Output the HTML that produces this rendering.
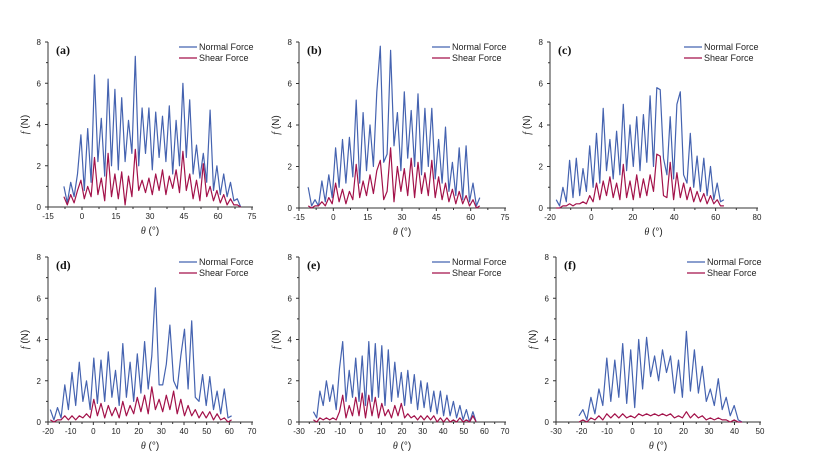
<!DOCTYPE html>
<html><head><meta charset="utf-8"><style>
body{margin:0;background:#fff;}
svg{display:block;font-family:"Liberation Sans",sans-serif;}
</style></head><body>
<svg id="c" width="822" height="471"></svg>
<script>
const aNormal=[1.0,0.2,1.2,0.5,1.6,3.5,0.8,3.8,1.2,6.4,2.2,4.3,1.5,6.2,2.0,5.7,1.8,5.3,2.2,4.2,2.6,7.3,2.0,4.8,2.6,4.8,1.8,4.6,2.4,4.4,2.2,4.9,1.6,4.2,2.0,6.0,2.4,5.2,1.6,3.0,1.4,2.6,1.2,4.7,0.8,2.0,0.6,1.6,0.5,1.2,0.3,0.4,0.0];
const aShear=[0.5,0.1,0.6,0.2,0.8,1.3,0.4,1.0,0.5,2.4,0.6,1.4,0.3,2.6,0.5,1.6,0.4,1.7,0.1,1.5,0.5,2.8,0.8,1.3,0.7,1.4,0.6,1.6,0.8,1.8,0.6,1.5,0.9,1.8,0.7,2.7,0.8,1.6,0.4,1.3,0.3,2.1,0.5,1.0,0.3,0.8,0.2,0.6,0.1,0.4,0.1,0.1,0.0];
const bNormal=[1.0,0.1,0.4,0.1,1.3,0.3,1.6,0.5,2.9,1.0,3.3,1.2,3.4,1.5,5.2,1.2,4.6,1.8,4.0,2.0,5.6,7.8,2.2,2.6,7.6,3.0,4.6,1.8,5.6,2.4,4.7,2.0,5.5,1.6,4.8,2.0,4.8,1.4,3.3,1.2,3.9,0.8,2.2,0.6,2.9,0.4,3.0,0.3,1.2,0.1,0.5];
const bShear=[0.1,0.0,0.1,0.1,0.3,0.1,0.5,0.2,1.2,0.3,0.9,0.2,0.8,0.4,2.1,0.5,1.3,0.6,1.6,0.7,1.8,2.3,0.4,0.8,2.9,0.3,2.0,0.8,1.9,0.6,2.4,0.5,2.2,0.7,1.7,0.6,2.3,0.5,1.5,0.4,1.2,0.3,0.9,0.2,0.8,0.2,0.6,0.1,0.4,0.0,0.1];
const cNormal=[0.4,0.1,1.0,0.3,2.3,0.5,2.4,0.6,1.9,0.8,3.0,1.0,3.6,1.2,4.8,1.8,3.3,1.4,3.7,1.6,5.0,1.8,4.0,2.0,4.4,1.8,4.5,2.2,5.4,2.0,5.8,5.7,2.4,1.6,4.4,1.4,5.0,5.6,1.6,1.2,3.6,1.0,2.5,0.8,2.4,0.6,2.0,0.4,1.2,0.3,0.4];
const cShear=[0.0,0.0,0.1,0.1,0.2,0.1,0.2,0.2,0.3,0.2,0.6,0.3,1.2,0.4,1.3,0.6,1.5,0.5,1.2,0.4,2.1,0.5,1.3,0.4,1.6,0.5,1.4,0.6,1.6,0.8,2.6,2.5,0.6,0.5,2.2,0.4,1.7,0.5,1.2,0.4,1.0,0.3,0.8,0.3,0.7,0.2,0.6,0.2,0.4,0.1,0.1];
const dNormal=[0.6,0.1,0.7,0.2,1.8,0.6,2.4,0.8,2.9,1.0,2.0,0.6,3.1,0.9,3.0,1.0,3.4,1.2,2.5,0.8,3.8,1.2,2.9,1.0,3.3,1.4,3.9,1.6,3.2,6.5,1.8,1.8,2.8,4.7,2.0,1.6,3.2,4.5,1.6,4.9,1.2,1.0,2.3,0.8,2.2,0.6,1.5,0.4,1.6,0.2,0.3];
const dShear=[0.1,0.0,0.1,0.1,0.3,0.1,0.3,0.1,0.3,0.2,0.4,0.2,1.1,0.3,0.9,0.2,0.8,0.3,0.7,0.2,1.0,0.3,0.8,0.4,1.2,0.5,1.3,0.4,1.7,0.6,1.1,0.5,1.3,0.6,1.5,0.4,1.1,0.3,0.8,0.3,0.6,0.2,0.5,0.2,0.5,0.1,0.4,0.1,0.2,0.0,0.1];
const eNormal=[0.5,0.2,1.5,0.8,2.0,1.0,1.8,0.6,2.6,3.9,1.0,2.5,1.2,3.1,1.0,3.2,0.8,3.9,1.0,3.8,1.2,3.7,0.8,3.5,1.0,2.9,1.2,2.4,0.8,2.5,0.9,2.3,0.6,2.0,0.7,1.9,0.5,1.5,0.4,1.5,0.3,1.3,0.3,1.0,0.2,0.8,0.1,0.6,0.0,0.5,0.0];
const eShear=[0.1,0.0,0.2,0.1,0.2,0.1,0.2,0.1,0.5,1.3,0.2,0.8,0.3,1.2,0.3,1.4,0.2,1.3,0.3,1.2,0.2,0.9,0.3,0.6,0.2,0.8,0.3,0.9,0.2,0.4,0.2,0.3,0.1,0.3,0.1,0.3,0.1,0.3,0.0,0.2,0.0,0.2,0.0,0.1,0.0,0.2,0.0,0.1,0.0,0.3,0.0];
const fNormal=[0.3,0.6,0.1,1.2,0.4,1.6,0.8,3.1,1.0,3.0,1.2,3.8,0.9,3.5,0.7,4.0,1.6,4.1,2.2,3.2,2.0,3.5,2.4,3.2,1.4,3.0,1.2,4.4,1.5,3.5,1.4,2.7,1.0,1.6,0.8,2.1,0.6,1.2,0.3,0.8,0.1,0.0];
const fShear=[0.0,0.1,0.0,0.2,0.1,0.3,0.1,0.4,0.2,0.4,0.2,0.4,0.2,0.3,0.2,0.4,0.3,0.4,0.3,0.4,0.3,0.4,0.3,0.4,0.2,0.3,0.2,0.5,0.2,0.4,0.2,0.3,0.1,0.2,0.1,0.2,0.1,0.1,0.0,0.1,0.0,0.0];
const panelLabels=["(a)","(b)","(c)","(d)","(e)","(f)"];
const xTicksA=[-15,0,15,30,45,60,75];
const xTicksB=[-15,0,15,30,45,60,75];
const xTicksC=[-20,0,20,40,60,80];
const xTicksD=[-20,-10,0,10,20,30,40,50,60,70];
const xTicksE=[-30,-20,-10,0,10,20,30,40,50,60,70];
const xTicksF=[-30,-20,-10,0,10,20,30,40,50];
const yTicks=[0,2,4,6,8];
const thetaRanges=[[-8,70],[-11,64],[-17,64],[-19,61],[-23,56],[-21,43]];

const NS="http://www.w3.org/2000/svg";
const svg=document.getElementById('c');
function mk(tag,attrs,parent){const e=document.createElementNS(NS,tag);for(const k in attrs)e.setAttribute(k,attrs[k]);(parent||svg).appendChild(e);return e;}

const panels=[
 {x0:48,x1:252,y0:207,y1:42,ticks:xTicksA,n:aNormal,s:aShear},
 {x0:299,x1:505,y0:208,y1:42,ticks:xTicksB,n:bNormal,s:bShear},
 {x0:550,x1:757,y0:208,y1:42,ticks:xTicksC,n:cNormal,s:cShear},
 {x0:48,x1:252,y0:422,y1:257,ticks:xTicksD,n:dNormal,s:dShear},
 {x0:299,x1:505,y0:422,y1:257,ticks:xTicksE,n:eNormal,s:eShear},
 {x0:556,x1:760,y0:422,y1:257,ticks:xTicksF,n:fNormal,s:fShear}
];
panels.forEach((p,i)=>{
 const g=mk('g',{});
 
 
 const tmin=p.ticks[0],tmax=p.ticks[p.ticks.length-1];
 const X=v=>p.x0+(v-tmin)/(tmax-tmin)*(p.x1-p.x0);
 const Y=v=>p.y0+(v/8)*(p.y1-p.y0);
 const ax=mk('line',{x1:p.x0,y1:p.y0,x2:p.x1+1,y2:p.y0,stroke:'#333','stroke-width':1},g);
 
 const ay=mk('line',{x1:p.x0,y1:p.y0,x2:p.x0,y2:p.y1,stroke:'#333','stroke-width':1},g);
 
 p.ticks.forEach((t,j)=>{
  mk('line',{x1:X(t),y1:p.y0,x2:X(t),y2:p.y0+3,stroke:'#333'},g);
  if(j<p.ticks.length-1) mk('line',{x1:(X(t)+X(p.ticks[j+1]))/2,y1:p.y0,x2:(X(t)+X(p.ticks[j+1]))/2,y2:p.y0+2,stroke:'#333'},g);
  const tl=mk('text',{x:X(t),y:p.y0+12,'font-size':8,'text-anchor':'middle',fill:'#222'},g);
  tl.textContent=t;
  
 });
 yTicks.forEach((t,j)=>{
  mk('line',{x1:p.x0-3,y1:Y(t),x2:p.x0,y2:Y(t),stroke:'#333'},g);
  if(j<yTicks.length-1) mk('line',{x1:p.x0-2,y1:Y(t+1),x2:p.x0,y2:Y(t+1),stroke:'#333'},g);
  const tl=mk('text',{x:p.x0-7,y:Y(t)+3,'font-size':8,'text-anchor':'end',fill:'#222'},g);
  tl.textContent=t;
  
 });
 const yt=mk('text',{x:0,y:0,'font-size':10,'text-anchor':'middle',transform:`translate(${p.x0-20},${(p.y0+p.y1)/2}) rotate(-90)`,fill:'#222'},g);
 yt.innerHTML='<tspan font-style="italic" font-family="Liberation Serif">f</tspan> (N)';
 
 const xt=mk('text',{x:(p.x0+p.x1)/2,y:p.y0+27,'font-size':10,'text-anchor':'middle',fill:'#222'},g);
 xt.innerHTML='<tspan font-style="italic" font-family="Liberation Serif">θ</tspan> (°)';
 
 const pl=mk('text',{x:p.x0+8,y:p.y1+12,'font-size':12,'font-weight':'bold','font-family':'Liberation Serif',fill:'#111'},g);
 pl.textContent=panelLabels[i];
 
 const [a,b]=thetaRanges[i];
 function series(arr,color,name){
  const pts=arr.map((v,k)=>X(a+(b-a)*k/(arr.length-1)).toFixed(1)+','+Y(v).toFixed(1)).join(' ');
  const pe=mk('polyline',{points:pts,fill:'none',stroke:color,'stroke-width':1.2,'stroke-linejoin':'round'},g);
  
 }
 series(p.n,'#4563b0','normal-force-line');
 series(p.s,'#a3124a','shear-force-line');
 const lx=p.x1-73, ly=p.y1+5;
 const l1=mk('g',{},g);
 mk('line',{x1:lx,y1:ly,x2:lx+18,y2:ly,stroke:'#4563b0','stroke-width':1.2},l1);
 const t1=mk('text',{x:lx+20,y:ly+3,'font-size':9,fill:'#222'},l1);t1.textContent='Normal Force';
 const l2=mk('g',{},g);
 mk('line',{x1:lx,y1:ly+11,x2:lx+18,y2:ly+11,stroke:'#a3124a','stroke-width':1.2},l2);
 const t2=mk('text',{x:lx+20,y:ly+14,'font-size':9,fill:'#222'},l2);t2.textContent='Shear Force';
});
</script>
</body></html>
